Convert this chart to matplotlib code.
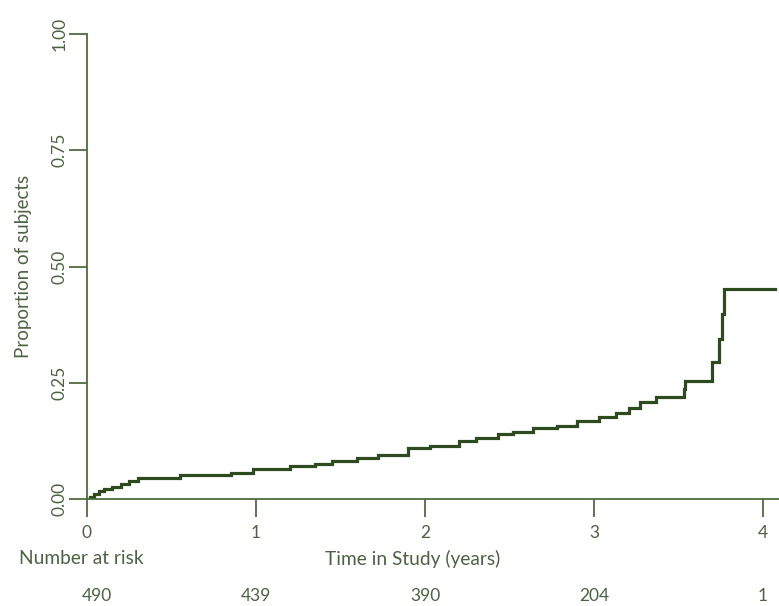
import matplotlib
matplotlib.use("Agg")
from matplotlib import pyplot as plt
import numpy as np

# cumulative proportion, step at each event time (years)
times = [0.0, 0.02, 0.04, 0.07, 0.10, 0.15, 0.20, 0.25, 0.30, 0.55, 0.85,
         0.98, 1.20, 1.35, 1.45, 1.60, 1.72, 1.90, 2.03, 2.20, 2.30, 2.43,
         2.52, 2.64, 2.78, 2.90, 3.03, 3.13, 3.21, 3.27, 3.37, 3.53, 3.54,
         3.70, 3.74, 3.76, 3.77, 4.07]
props = [0.0, 0.005, 0.010, 0.018, 0.021, 0.026, 0.032, 0.038, 0.046, 0.051,
         0.056, 0.064, 0.070, 0.075, 0.082, 0.088, 0.095, 0.109, 0.114, 0.125,
         0.132, 0.139, 0.144, 0.152, 0.157, 0.168, 0.176, 0.186, 0.195, 0.209,
         0.220, 0.237, 0.254, 0.295, 0.344, 0.398, 0.451, 0.451]

xticks = [0, 1, 2, 3, 4]
yticks = [0.0, 0.25, 0.5, 0.75, 1.0]
at_risk = [490, 439, 390, 204, 1]

line_col = "#2e4a1f"
axis_col = "#4f6b40"
text_col = "#4a6340"

plt.rcParams["font.family"] = ["Lato", "DejaVu Sans"]

fig = plt.figure(figsize=(7.79, 6.06), dpi=100)
ax = fig.add_axes([87 / 779, 107 / 606, 692 / 779, 465 / 606])

ax.step(times, props, where="post", color=line_col, lw=2.3, solid_joinstyle="miter")

ax.set_xlim(0, 4.095)
ax.set_ylim(0, 1)
ax.set_xticks(xticks)
ax.set_yticks(yticks)
ax.set_yticklabels(["%.2f" % v for v in yticks], rotation=90, va="center")

for side in ["top", "right"]:
    ax.spines[side].set_visible(False)
for side in ["left", "bottom"]:
    ax.spines[side].set_color(axis_col)
    ax.spines[side].set_linewidth(1.3)

ax.tick_params(axis="both", colors=axis_col, labelcolor=text_col, length=13,
               width=1.3, labelsize=12.5)
ax.tick_params(axis="x", pad=6)
ax.tick_params(axis="y", pad=1)

ax.set_ylabel("Proportion of subjects", color=text_col, fontsize=13.5, labelpad=14)

# bottom annotations (pixel coordinates of the figure)
fig.text(19 / 779, 1 - 559 / 606, "Number at risk", color=text_col, fontsize=13.8,
         ha="left", va="center")
fig.text(413 / 779, 1 - 559 / 606, "Time in Study (years)", color=text_col,
         fontsize=13.8, ha="center", va="center")
for i, (t, n) in enumerate(zip(xticks, at_risk)):
    xpos = t + (0.06 if i == 0 else 0)
    ax.text(xpos, -(596 - 499) / 465, str(n), transform=ax.get_xaxis_transform(),
            color=text_col, fontsize=12.5, ha="center", va="center")

fig.savefig("out.png", dpi=100)
